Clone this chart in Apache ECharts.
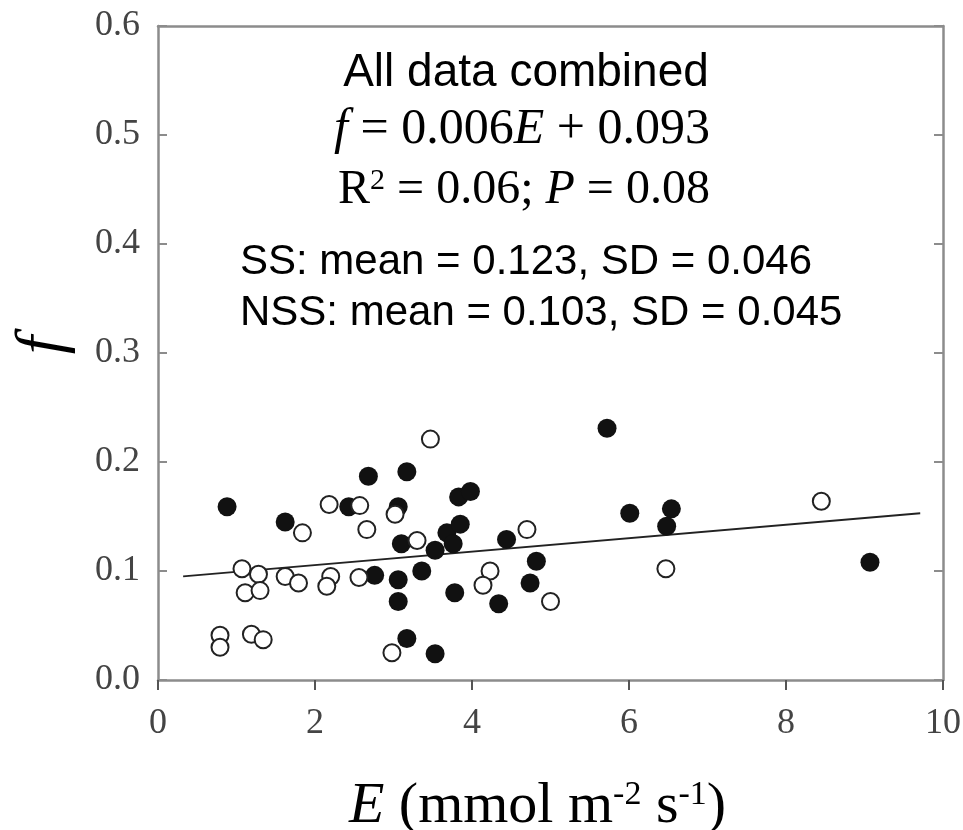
<!DOCTYPE html>
<html>
<head>
<meta charset="utf-8">
<title>f vs E</title>
<script src="https://cdn.jsdelivr.net/npm/echarts@6/dist/echarts.min.js"></script>
<style>
  html, body { margin: 0; padding: 0; background: #fff; }
  #chart { width: 963px; height: 830px; }
</style>
</head>
<body>
<div id="chart"></div>
<script>
// 数据：实心点 (SS) 与 空心点 (NSS)
var ssE = [0.88, 1.62, 2.68, 3.17, 2.43, 3.06, 3.10, 2.76, 3.06, 3.06, 3.17, 5.72, 6.01, 3.53, 3.36,
  3.53, 3.68, 3.85, 3.76, 3.83, 3.98, 3.78, 4.44, 4.82, 4.74, 4.34, 6.54, 6.48, 9.07];
var ssF = [0.159, 0.145, 0.187, 0.191, 0.159, 0.159, 0.125, 0.096, 0.092, 0.072, 0.038, 0.231, 0.153, 0.024, 0.100,
  0.119, 0.135, 0.143, 0.125, 0.168, 0.173, 0.080, 0.129, 0.109, 0.089, 0.070, 0.157, 0.141, 0.108];

var nssE = [2.18, 2.57, 3.02, 2.66, 1.84, 1.07, 1.28, 1.62, 1.79, 1.11, 1.30, 2.20, 2.15, 2.56, 0.79,
  0.79, 1.19, 1.34, 2.98, 3.47, 3.30, 4.23, 4.14, 4.70, 5.00, 6.47, 8.45];
var nssF = [0.161, 0.160, 0.152, 0.138, 0.135, 0.102, 0.097, 0.095, 0.089, 0.080, 0.082, 0.095, 0.086, 0.094, 0.041,
  0.030, 0.042, 0.037, 0.025, 0.221, 0.128, 0.100, 0.087, 0.138, 0.072, 0.102, 0.164];

// 回归线两端
var fitE = [0.32, 9.71];
var fitF = [0.095, 0.153];

var xTicks = [0, 2, 4, 6, 8, 10];
var yTicks = ['0.0', '0.1', '0.2', '0.3', '0.4', '0.5', '0.6'];

function pairs(xs, ys) {
  return xs.map(function (x, i) { return [x, ys[i]]; });
}

(function () {
  var dom = document.getElementById('chart');
  var myChart = echarts.init(dom);
  var serif = '"Liberation Serif", "Times New Roman", serif';
  var sans = '"Liberation Sans", Arial, sans-serif';
  var axisGray = '#8c8c8c';

  var option = {
    animation: false,
    backgroundColor: '#fff',
    grid: {
      left: 158,
      right: 20,
      top: 26,
      bottom: 150,
      containLabel: false,
      outerBoundsMode: 'none'
    },
    xAxis: [{
      type: 'value',
      min: 0,
      max: 10,
      interval: 2,
      position: 'bottom',
      name: '{i|E} (mmol m{sup|-2} s{sup|-1})',
      nameLocation: 'middle',
      nameGap: 98,
      nameTextStyle: {
        fontFamily: serif,
        fontSize: 58,
        color: '#000',
        padding: [0, 26, 0, 0],
        rich: {
          i: { fontFamily: serif, fontSize: 58, fontStyle: 'italic', color: '#000' },
          sup: { fontFamily: serif, fontSize: 34, color: '#000', verticalAlign: 'top' }
        }
      },
      axisLine: { show: true, onZero: false, lineStyle: { color: axisGray, width: 2.5 } },
      axisTick: { show: true, inside: false, length: 10, lineStyle: { color: '#555', width: 2 } },
      axisLabel: {
        margin: 26,
        fontFamily: serif,
        fontSize: 36,
        color: '#444',
        formatter: function (v) { return xTicks.indexOf(v) >= 0 ? String(v) : ''; }
      },
      splitLine: { show: false }
    }, {
      type: 'value',
      min: 0,
      max: 10,
      interval: 2,
      position: 'top',
      axisLine: { show: true, onZero: false, lineStyle: { color: axisGray, width: 2.5 } },
      axisTick: { show: false },
      axisLabel: { show: false },
      splitLine: { show: false }
    }],
    yAxis: [{
      type: 'value',
      min: 0,
      max: 0.6,
      interval: 0.1,
      position: 'left',
      axisLine: { show: true, onZero: false, lineStyle: { color: axisGray, width: 2.5 } },
      axisTick: { show: true, inside: true, length: 9, lineStyle: { color: axisGray, width: 2 } },
      axisLabel: {
        margin: 18,
        fontFamily: serif,
        fontSize: 36,
        color: '#444',
        formatter: function (v) { return yTicks[Math.round(v * 10)]; }
      },
      splitLine: { show: false }
    }, {
      type: 'value',
      min: 0,
      max: 0.6,
      interval: 0.1,
      position: 'right',
      axisLine: { show: true, onZero: false, lineStyle: { color: axisGray, width: 2.5 } },
      axisTick: { show: true, inside: true, length: 9, lineStyle: { color: axisGray, width: 2 } },
      axisLabel: { show: false },
      splitLine: { show: false }
    }],
    graphic: [{
      // y 轴名称 f（逆时针旋转 90°）
      type: 'text',
      x: 44,
      y: 345,
      rotation: Math.PI / 2,
      style: {
        text: 'f',
        fontFamily: serif,
        fontStyle: 'italic',
        fontSize: 66,
        fill: '#000',
        align: 'center', verticalAlign: 'middle',
        textAlign: 'center', textVerticalAlign: 'middle'
      }
    }, {
      type: 'text',
      x: 526,
      y: 73,
      style: {
        text: 'All data combined',
        fontFamily: sans,
        fontSize: 46,
        fill: '#000',
        align: 'center', verticalAlign: 'middle',
        textAlign: 'center', textVerticalAlign: 'middle'
      }
    }, {
      type: 'text',
      x: 522,
      y: 130,
      style: {
        text: '{i|f} = 0.006{i|E} + 0.093',
        fontFamily: serif,
        fontSize: 50,
        fill: '#000',
        align: 'center', verticalAlign: 'middle',
        textAlign: 'center', textVerticalAlign: 'middle',
        rich: {
          i: { fontFamily: serif, fontSize: 50, fontStyle: 'italic', fill: '#000' }
        }
      }
    }, {
      type: 'text',
      x: 524,
      y: 190,
      style: {
        text: 'R{sup|2} = 0.06; {i|P} = 0.08',
        fontFamily: serif,
        fontSize: 48,
        fill: '#000',
        align: 'center', verticalAlign: 'middle',
        textAlign: 'center', textVerticalAlign: 'middle',
        rich: {
          i: { fontFamily: serif, fontSize: 48, fontStyle: 'italic', fill: '#000' },
          sup: { fontFamily: serif, fontSize: 30, fill: '#000', verticalAlign: 'top' }
        }
      }
    }, {
      type: 'text',
      x: 240,
      y: 262,
      style: {
        text: 'SS: mean = 0.123, SD = 0.046',
        fontFamily: sans,
        fontSize: 42,
        fill: '#000',
        align: 'left', verticalAlign: 'middle',
        textAlign: 'left', textVerticalAlign: 'middle'
      }
    }, {
      type: 'text',
      x: 240,
      y: 313,
      style: {
        text: 'NSS: mean = 0.103, SD = 0.045',
        fontFamily: sans,
        fontSize: 42,
        fill: '#000',
        align: 'left', verticalAlign: 'middle',
        textAlign: 'left', textVerticalAlign: 'middle'
      }
    }],
    series: [{
      name: 'fit',
      type: 'line',
      xAxisIndex: 0,
      yAxisIndex: 0,
      data: pairs(fitE, fitF),
      symbol: 'none',
      lineStyle: { color: '#222', width: 1.8 },
      z: 1
    }, {
      name: 'SS',
      type: 'scatter',
      xAxisIndex: 0,
      yAxisIndex: 0,
      data: pairs(ssE, ssF),
      symbol: 'circle',
      symbolSize: 19,
      itemStyle: { color: '#111', opacity: 1 },
      z: 2
    }, {
      name: 'NSS',
      type: 'scatter',
      xAxisIndex: 0,
      yAxisIndex: 0,
      data: pairs(nssE, nssF),
      symbol: 'circle',
      symbolSize: 17,
      itemStyle: { color: '#fff', borderColor: '#222', borderWidth: 2, opacity: 1 },
      z: 3
    }]
  };

  if (option && typeof option === 'object') {
    myChart.setOption(option);
  }
})();
</script>
</body>
</html>
